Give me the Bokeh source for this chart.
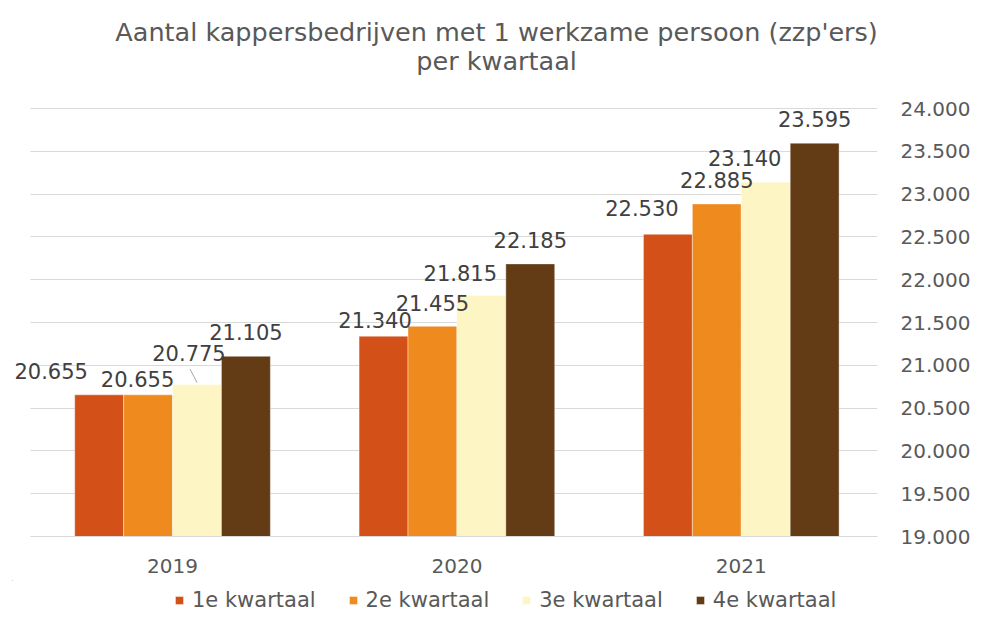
from bokeh.plotting import figure
from bokeh.models import (ColumnDataSource, Range1d, FixedTicker,
                          Legend, LegendItem, LabelSet)
from bokeh.layouts import column
from bokeh.transform import dodge
from bokeh.core.properties import value
from bokeh.embed import file_html
from bokeh.resources import INLINE

# ---------------- data ----------------
years = ["2019", "2020", "2021"]
quarters = ["1e kwartaal", "2e kwartaal", "3e kwartaal", "4e kwartaal"]
q1 = [20655, 21340, 22530]
q2 = [20655, 21455, 22885]
q3 = [20775, 21815, 23140]
q4 = [21105, 22185, 23595]
y_ticks = [19000, 19500, 20000, 20500, 21000, 21500, 22000, 22500, 23000, 23500, 24000]
y_tick_labels = ["19.000", "19.500", "20.000", "20.500", "21.000", "21.500",
                 "22.000", "22.500", "23.000", "23.500", "24.000"]
title_lines = ["Aantal kappersbedrijven met 1 werkzame persoon (zzp'ers)",
               "per kwartaal"]

# ---------------- style ----------------
W = 973
colors = ["#D35018", "#EF8A1F", "#FDF5C3", "#633C16"]
offsets = [-0.258, -0.086, 0.086, 0.258]
bar_w = 0.172
FONT = "DejaVu Sans"
GREY = "#595959"
FRAME_L, FRAME_R = 12, 884          # frame edges (px)
PLOT_L = 30                          # where the category area starts (px)
PPU = 286.67                         # px per category
# label offsets in px (dx right, dy up from bar top) per series per year
label_dx = [[-48, -8.5, -26], [-10.5, 0, 0], [-8, -21, -21], [0, 0, 0]]
label_dy = [[24, 16.5, 26], [16, 23.5, 24], [32, 23, 24.5], [24.5, 24, 24.5]]


def fmt(v):
    return f"{v:,}".replace(",", ".")


def blank_fig(h):
    # the column aligns this strip's frame with the chart frame, so the
    # x range is expressed in page pixels between the frame edges
    f = figure(width=W, height=h, x_range=Range1d(FRAME_L, FRAME_R),
               y_range=Range1d(0, h),
               x_axis_type=None, y_axis_type=None,
               output_backend="svg", toolbar_location=None,
               min_border=0, min_border_left=FRAME_L, min_border_right=W - FRAME_R,
               min_border_top=0, min_border_bottom=0)
    f.grid.visible = False
    f.outline_line_color = None
    f.background_fill_color = "white"
    f.border_fill_color = "white"
    return f


# ---------------- title strip ----------------
TH = 90
tf = blank_fig(TH)
tf.text(x=[500, 500], y=[TH - 31.5, TH - 60.5], text=title_lines,
        text_align="center", text_baseline="middle", text_font=value(FONT),
        text_font_size="25.5px", text_color=GREY)

# ---------------- main chart ----------------
x_idx = list(range(len(years)))
x_start = -0.5 - (PLOT_L - FRAME_L) / PPU
x_end = x_start + (FRAME_R - FRAME_L) / PPU

p = figure(width=W, height=490, x_range=Range1d(x_start, x_end),
           y_range=Range1d(y_ticks[0], y_ticks[-1] + 12), y_axis_location="right",
           output_backend="svg", toolbar_location=None,
           min_border_left=FRAME_L, min_border_right=W - FRAME_R,
           min_border_top=17, min_border_bottom=44)
p.outline_line_color = None
p.background_fill_color = "white"
p.border_fill_color = "white"

series = [q1, q2, q3, q4]
for i, vals in enumerate(series):
    src = ColumnDataSource(dict(
        x=x_idx, top=vals, label=[fmt(v) for v in vals],
        dx=label_dx[i], dy=label_dy[i]))
    p.vbar(x=dodge("x", offsets[i]), top="top",
           bottom=y_ticks[0], width=bar_w, source=src,
           fill_color=colors[i], line_color="white", line_width=0.8,
           line_alpha=0.5)
    ls = LabelSet(x=dodge("x", offsets[i]), y="top",
                  text="label", x_offset="dx", y_offset="dy", source=src,
                  text_align="center", text_baseline="middle",
                  text_font_size="21px", text_color="#404040",
                  text_font=value(FONT))
    p.add_layout(ls)

# leader line for 2019 3e kwartaal label
px_x = 1.0 / PPU
px_y = 500.0 / 42.9
lsrc = ColumnDataSource(dict(x=[x_idx[0]], y0=[q3[0] + 2 * px_y],
                             y1=[q3[0] + 15.5 * px_y]))
p.segment(x0=dodge("x", offsets[2]), y0="y0",
          x1=dodge("x", offsets[2] - 7 * px_x), y1="y1",
          source=lsrc, line_color="#A6A6A6", line_width=1)

yax = p.yaxis[0]
yax.ticker = FixedTicker(ticks=y_ticks)
yax.major_label_overrides = {t: l for t, l in zip(y_ticks, y_tick_labels)}
yax.axis_line_color = None
yax.major_tick_line_color = None
yax.minor_tick_line_color = None
yax.major_label_text_font = FONT
yax.major_label_text_font_size = "20px"
yax.major_label_text_color = GREY
yax.major_label_standoff = 17

xax = p.xaxis[0]
xax.ticker = FixedTicker(ticks=x_idx)
xax.major_label_overrides = {i: y for i, y in zip(x_idx, years)}
xax.bounds = (-0.5, x_end)
xax.axis_line_color = "#D9D9D9"
xax.axis_line_width = 1
xax.major_tick_line_color = None
xax.minor_tick_line_color = None
xax.major_label_text_font = FONT
xax.major_label_text_font_size = "20px"
xax.major_label_text_color = GREY
xax.major_label_standoff = 16

p.xgrid.grid_line_color = None
p.ygrid.grid_line_color = "#D9D9D9"
p.ygrid.grid_line_width = 1
p.ygrid.ticker = FixedTicker(ticks=y_ticks)
p.ygrid.cross_bounds = (-0.5, x_end)

# ---------------- legend strip ----------------
LH = 33
lf = blank_fig(LH)
items = []
for i, q in enumerate(quarters):
    # same bars, lying outside this strip's visible range (only the key shows)
    r = lf.vbar(x=x_idx, top=series[i], bottom=y_ticks[0], width=bar_w,
                fill_color=colors[i], line_color="white", line_width=0.8,
                line_alpha=0.5)
    items.append(LegendItem(label=q, renderers=[r]))
legend = Legend(items=items, orientation="horizontal",
                location=(174 - FRAME_L, 1),
                glyph_width=10, glyph_height=10, label_standoff=8, spacing=32,
                label_text_font=FONT, label_text_font_size="21px",
                label_text_color=GREY, border_line_color=None,
                background_fill_alpha=0, padding=0, margin=0,
                label_height=20)
lf.add_layout(legend, "center")

layout = column(tf, p, lf, spacing=0)
open("out.html", "w").write(file_html(layout, INLINE))
